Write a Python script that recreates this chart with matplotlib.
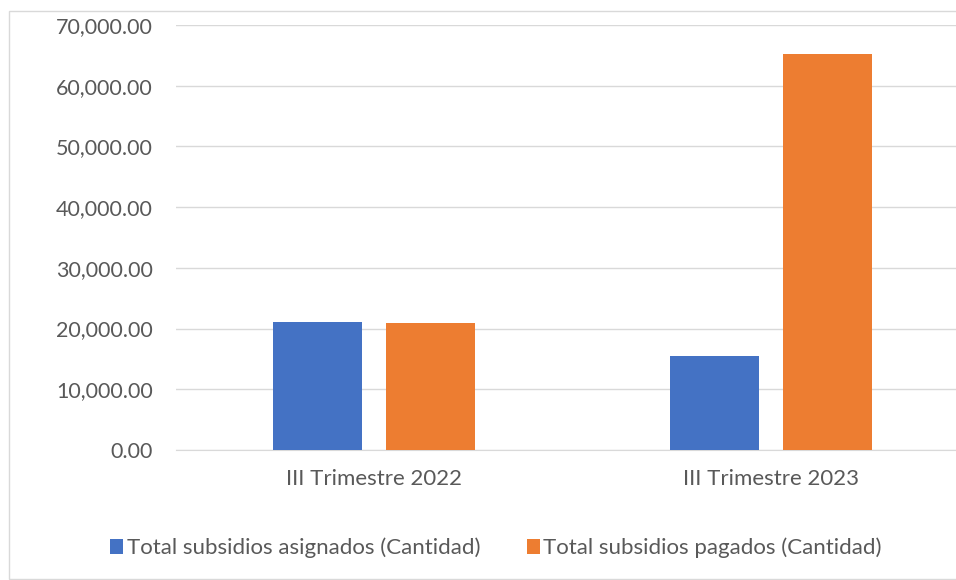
import matplotlib.pyplot as plt
import matplotlib.patches as mpatches
import numpy as np

categories = ['III Trimestre 2022', 'III Trimestre 2023']
asignados = [21100, 15500]
pagados = [20900, 65300]
series_names = ['Total subsidios asignados (Cantidad)', 'Total subsidios pagados (Cantidad)']

blue = '#4472C4'
orange = '#ED7D31'
text_color = '#595959'

plt.rcParams['font.family'] = ['Lato', 'DejaVu Sans']

fig = plt.figure(figsize=(9.56, 5.8), dpi=100)
# chart border
fig.patches.append(mpatches.Rectangle((9 / 956, 1 / 580), 1.0, 568 / 580, transform=fig.transFigure,
                                      fill=False, edgecolor='#D9D9D9', linewidth=1))

ax = fig.add_axes([175.5 / 956, 1 - 450 / 580, 1 - 175.5 / 956, 425 / 580])

x = np.arange(len(categories))
width = 0.224
offset = 0.142
ax.bar(x - offset, asignados, width, color=blue, label=series_names[0], zorder=3)
ax.bar(x + offset, pagados, width, color=orange, label=series_names[1], zorder=3)

ax.set_ylim(0, 70000)
ax.set_xlim(-0.5, 1.466)
ax.set_yticks(np.arange(0, 70001, 10000))
ax.set_yticklabels(['{:,.2f}'.format(v) for v in np.arange(0, 70001, 10000)])
ax.set_xticks(x)
ax.set_xticklabels(categories)
ax.tick_params(axis='both', length=0, colors=text_color)
ax.tick_params(axis='y', pad=16.5, labelsize=15.5)
ax.tick_params(axis='x', pad=14, labelsize=16)
ax.grid(axis='y', color='#D9D9D9', linewidth=1, zorder=0)
for side in ['top', 'right', 'left']:
    ax.spines[side].set_visible(False)
ax.spines['bottom'].set_color('#D9D9D9')

leg = fig.legend(loc='center', bbox_to_anchor=(496 / 956, 1 - 548 / 580), ncol=2, frameon=False,
                 fontsize=16, handlelength=0.6, handleheight=0.6, handletextpad=0.15, columnspacing=2.1)
for t in leg.get_texts():
    t.set_color(text_color)

plt.savefig('out.png', dpi=100)
